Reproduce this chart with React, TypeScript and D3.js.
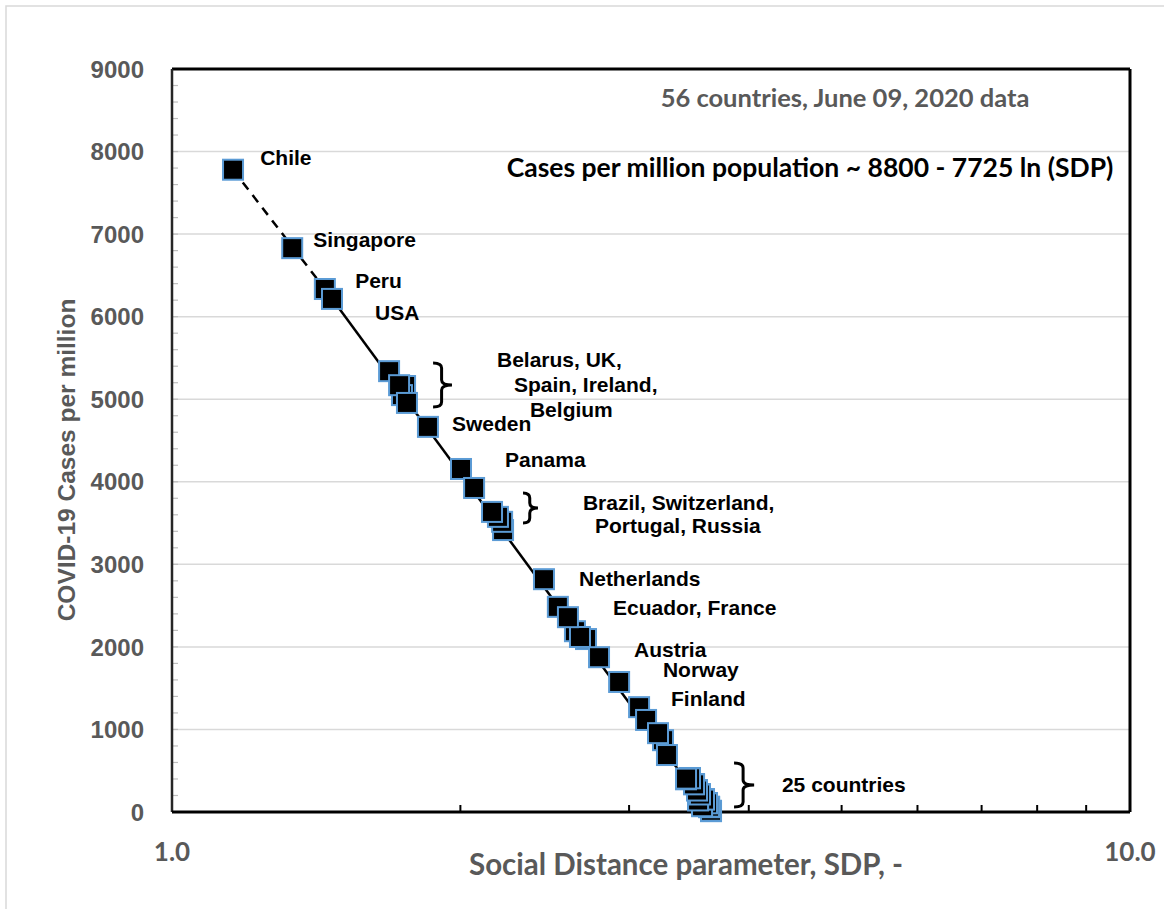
import React from "react";
import * as d3 from "d3";

// SDP (x) and cases per million (y)
const sdp = [
  1.158, 1.335, 1.444, 1.469,
  1.685, 1.751, 1.738, 1.726, 1.759, 1.85,
  2.003, 2.067, 2.216, 2.211, 2.189, 2.158,
  2.445, 2.528, 2.634, 2.705, 2.666, 2.59,
  2.791, 2.929, 3.073, 3.125, 3.255, 3.216, 3.286,
  // 25 countries near zero (many hidden behind each other)
  3.653, 3.653, 3.653, 3.636, 3.636, 3.636, 3.618, 3.618,
  3.575, 3.575, 3.592, 3.592, 3.541, 3.541, 3.557, 3.557,
  3.532, 3.532, 3.507, 3.507, 3.473, 3.473, 3.44, 3.44, 3.44,
];
const cases = [
  7780, 6830, 6335, 6215,
  5340, 5160, 5050, 5170, 4955, 4665,
  4155, 3925, 3415, 3515, 3575, 3635,
  2820, 2485, 2190, 2095, 2120, 2360,
  1875, 1575, 1270, 1115, 870, 955, 690,
  12, 10, 15, 61, 58, 64, 109, 105,
  73, 70, 157, 150, 145, 140, 218, 212,
  266, 260, 339, 335, 412, 408, 400, 396, 404,
];

// trend line ~ 8800 - 7725 ln(SDP)
const trendDashSdp = [1.158, 1.444];
const trendDashCases = [7780, 6335];
const trendSolidSdp = [1.444, 3.56];
const trendSolidCases = [6335, 150];

// country labels (left edge, baseline)
const labelText = [
  "Chile", "Singapore", "Peru", "USA",
  "Belarus, UK,", "Spain, Ireland,", "Belgium",
  "Sweden", "Panama",
  "Brazil, Switzerland,", "Portugal, Russia",
  "Netherlands", "Ecuador, France", "Austria", "Norway", "Finland",
  "25 countries",
];
const labelSdp = [
  1.236, 1.404, 1.553, 1.629,
  2.184, 2.275, 2.364,
  1.96, 2.227,
  2.685, 2.764,
  2.66, 2.886, 3.036, 3.254, 3.318,
  4.332,
];
const labelCases = [
  7840, 6840, 6350, 5960,
  5390, 5087, 4784,
  4615, 4179,
  3658, 3379,
  2737, 2386, 1877, 1635, 1284,
  242,
];

// curly braces grouping countries
const braceSdpLeft = [1.873, 2.325, 3.861];
const braceSdpTip = [1.96, 2.41, 4.052];
const braceTop = [5438, 3864, 594];
const braceBottom = [4905, 3500, 61];

const yTicks = [0, 1000, 2000, 3000, 4000, 5000, 6000, 7000, 8000, 9000];
const yMinor = d3.range(200, 9000, 200);
const xMinor = [2, 3, 4, 5, 6, 7, 8, 9];
const xLabelValues = [1, 10];
const xLabelText = ["1.0", "10.0"];

const gray = "#595959";
const calibri = "Lato, 'Open Sans', sans-serif";
const arial = "'Liberation Sans', Arial, sans-serif";

function bracePath(x0: number, x1: number, y0: number, y1: number) {
  const xm = x0 + (x1 - x0) * 0.45;
  const ym = (y0 + y1) / 2;
  const r = 5;
  return `M${x0},${y0} Q${xm},${y0} ${xm},${y0 + r} L${xm},${ym - r} Q${xm},${ym} ${x1},${ym} Q${xm},${ym} ${xm},${ym + r} L${xm},${y1 - r} Q${xm},${y1} ${x0},${y1}`;
}

export default function App() {
  const width = 1164;
  const height = 909;
  const x = d3.scaleLog().domain([1, 10]).range([172, 1130]);
  const y = d3.scaleLinear().domain([0, 9000]).range([812, 69]);
  const [x0, x1] = x.range();
  const [y0, y1] = y.range();

  const dashPts = trendDashSdp.map((d, i) => [x(d), y(trendDashCases[i])] as [number, number]);
  const solidPts = trendSolidSdp.map((d, i) => [x(d), y(trendSolidCases[i])] as [number, number]);
  const path = d3.line();

  return (
    <svg
      width={width}
      height={height}
      style={{ position: "absolute", left: 0, top: 0, background: "#fff" }}
    >
      <rect x={6} y={6} width={1170} height={920} fill="#fff" stroke="#d9d9d9" strokeWidth={1.5} />

      {/* grid */}
      {yTicks.slice(1).map((t) => (
        <line key={"g" + t} x1={x0} x2={x1} y1={y(t)} y2={y(t)} stroke="#d9d9d9" strokeWidth={1.5} />
      ))}
      {yMinor.map((t) => (
        <line key={"m" + t} x1={x0} x2={x0 + 6} y1={y(t)} y2={y(t)} stroke="#bfbfbf" strokeWidth={1.2} />
      ))}

      {/* frame */}
      <line x1={x0} x2={x1} y1={y1} y2={y1} stroke="#000" strokeWidth={3} />
      <line x1={x1} x2={x1} y1={y1} y2={y0} stroke="#000" strokeWidth={3} />
      <line x1={x0} x2={x0} y1={y1} y2={y0} stroke="#262626" strokeWidth={2.5} />
      <line x1={x0} x2={x1} y1={y0} y2={y0} stroke="#000" strokeWidth={3} />
      {xMinor.map((t) => (
        <line key={"xt" + t} x1={x(t)} x2={x(t)} y1={y0} y2={y0 - 7} stroke="#000" strokeWidth={2} />
      ))}

      {/* y tick labels */}
      {yTicks.map((t) => (
        <text
          key={"yl" + t}
          x={144}
          y={y(t)}
          dy="0.36em"
          textAnchor="end"
          fontFamily={arial}
          fontWeight="bold"
          fontSize={24}
          fill={gray}
        >
          {t}
        </text>
      ))}
      {xLabelValues.map((v, i) => (
        <text
          key={"xl" + v}
          x={x(v)}
          y={861}
          textAnchor="middle"
          fontFamily={calibri}
          fontWeight="bold"
          fontSize={26}
          fill={gray}
        >
          {xLabelText[i]}
        </text>
      ))}

      {/* axis titles */}
      <text
        x={686}
        y={875}
        textAnchor="middle"
        fontFamily={calibri}
        fontWeight="bold"
        fontSize={29.5}
        fill={gray}
      >
        Social Distance parameter, SDP,  -
      </text>
      <text
        transform="translate(75,460) rotate(-90)"
        textAnchor="middle"
        fontFamily={arial}
        fontWeight="bold"
        fontSize={24.5}
        fill={gray}
      >
        COVID-19 Cases per million
      </text>

      {/* header annotations */}
      <text x={845} y={107} textAnchor="middle" fontFamily={calibri} fontWeight="bold" fontSize={25.5} fill={gray}>
        56 countries, June 09, 2020 data
      </text>
      <text x={810} y={177} textAnchor="middle" fontFamily={calibri} fontWeight="bold" fontSize={26.5} fill="#000">
        Cases per million population ~ 8800 - 7725 ln (SDP)
      </text>

      {/* trend line */}
      <path d={path(dashPts) || ""} fill="none" stroke="#000" strokeWidth={2.5} strokeDasharray="9,7" />
      <path d={path(solidPts) || ""} fill="none" stroke="#000" strokeWidth={2.5} />

      {/* markers */}
      {sdp.map((s, i) => (
        <rect
          key={"p" + i}
          x={x(s) - 10}
          y={y(cases[i]) - 10}
          width={20}
          height={20}
          fill="#000"
          stroke="#5B9BD5"
          strokeWidth={2}
        />
      ))}

      {/* braces */}
      {braceSdpLeft.map((s, i) => (
        <path
          key={"b" + i}
          d={bracePath(x(s), x(braceSdpTip[i]), y(braceTop[i]), y(braceBottom[i]))}
          fill="none"
          stroke="#000"
          strokeWidth={3}
        />
      ))}

      {/* country labels */}
      {labelText.map((t, i) => (
        <text
          key={"c" + i}
          x={x(labelSdp[i])}
          y={y(labelCases[i])}
          fontFamily={arial}
          fontWeight="bold"
          fontSize={21}
          fill="#000"
        >
          {t}
        </text>
      ))}
    </svg>
  );
}
